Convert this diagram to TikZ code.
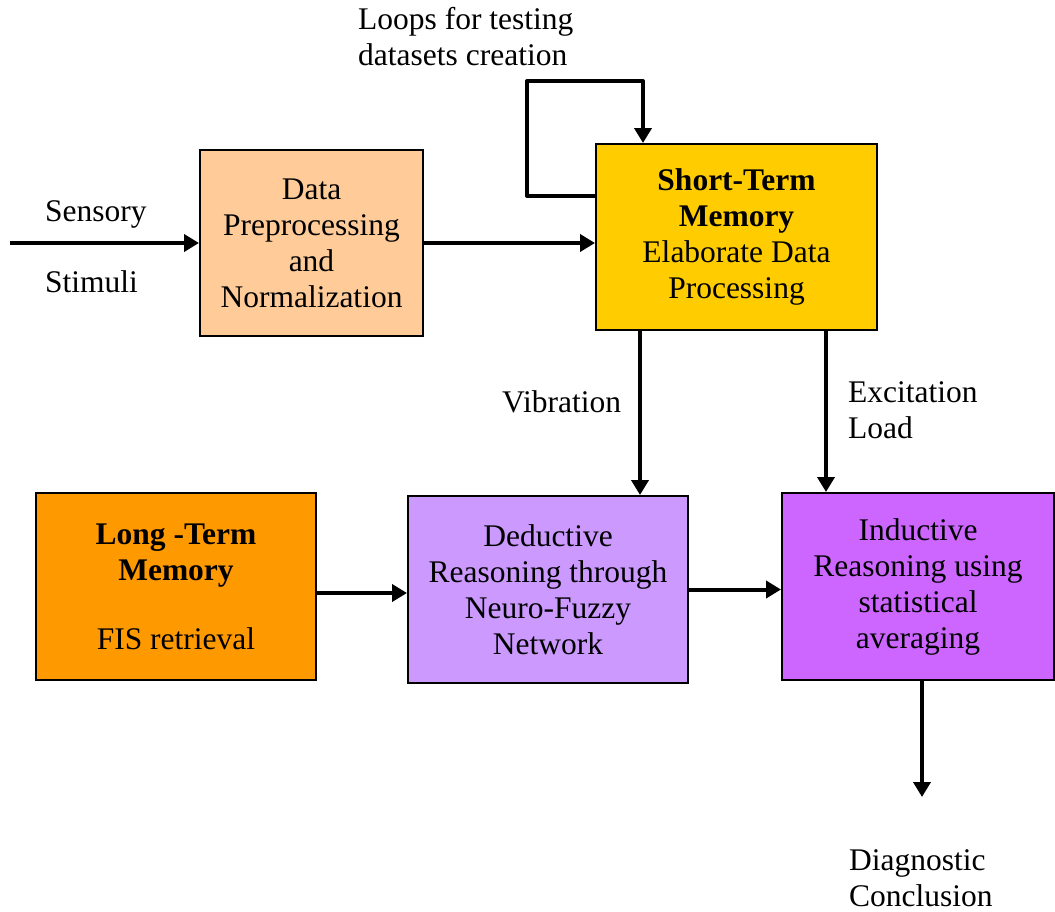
\documentclass[tikz,border=0pt]{standalone}
\usepackage{fontspec}
\setmainfont{Liberation Serif}
\usetikzlibrary{arrows.meta}
\definecolor{peach}{HTML}{FFCC99}
\definecolor{gold}{HTML}{FFCC00}
\definecolor{amber}{HTML}{FF9900}
\definecolor{lilac}{HTML}{CC99FF}
\definecolor{violet}{HTML}{CC66FF}
\begin{document}
\begin{tikzpicture}[x=1pt,y=-1pt,
  box/.style={draw=black, line width=2pt, align=center, inner sep=0pt,
    font=\fontsize{31.5}{36}\selectfont},
  lbl/.style={inner sep=0pt, align=left, font=\fontsize{31.5}{36}\selectfont},
  arr/.style={line width=4pt, line join=round,
    -{Triangle[length=15pt,width=17pt]}}]
\useasboundingbox (0,0) rectangle (1055,911);

% blocks
\node[box, fill=peach, minimum width=223pt, minimum height=186pt] (data) at (311.5,243)
  {Data\\Preprocessing\\and\\Normalization};
\node[box, fill=gold, minimum width=281pt, minimum height=186pt] (stm) at (736.5,237)
  {\textbf{Short-Term}\\\textbf{Memory}\\Elaborate Data\\Processing};
\node[box, fill=amber, minimum width=280pt, minimum height=187pt] (ltm) at (176,586.5)
  {\textbf{Long -Term}\\\textbf{Memory}\\[33pt]FIS retrieval};
\node[box, fill=lilac, minimum width=280pt, minimum height=187pt] (ded) at (548,589.5)
  {Deductive\\Reasoning through\\Neuro-Fuzzy\\Network};
\node[box, fill=violet, minimum width=272pt, minimum height=187pt] (ind) at (918,586.5)
  {Inductive\\Reasoning using\\statistical\\averaging};

% free ends
\coordinate (src) at (10,243);
\coordinate (loopA) at (527,81);
\coordinate (out) at (922,797);

% labels
\node[lbl, anchor=north west] (looplbl) at (358,7) {Loops for testing\\datasets creation};
\node[lbl, anchor=west] (sens) at (45,214) {Sensory};
\node[lbl, anchor=west] (stim) at (45,282) {Stimuli};
\node[lbl, anchor=west] (vib) at (502,402) {Vibration};
\node[lbl, anchor=north west] (exc) at (848,381) {Excitation\\Load};
\node[lbl, anchor=north west] (diag) at (849,849) {Diagnostic\\Conclusion};

% connectors
\draw[arr] (src) -- (data.west);
\draw[arr] (data.east) -- (data.east -| stm.west);
\draw[arr] ([yshift=41pt]stm.west) -| (loopA) -| ([xshift=-93.5pt]stm.north);
\draw[arr] ([xshift=45pt]stm.south west) -- ([xshift=45pt]stm.south west |- ded.north);
\draw[arr] ([xshift=231pt]stm.south west) -- ([xshift=231pt]stm.south west |- ind.north);
\draw[arr] ([yshift=-6.5pt]ltm.east) -- ([yshift=-6.5pt]ltm.east -| ded.west);
\draw[arr] (ded.east) -- (ded.east -| ind.west);
\draw[arr] ([xshift=4pt]ind.south) -- (out);
\end{tikzpicture}
\end{document}
